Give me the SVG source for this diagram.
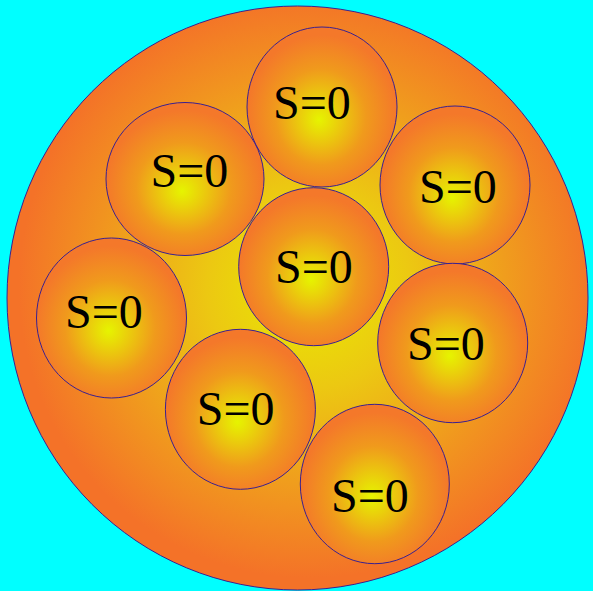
<svg xmlns="http://www.w3.org/2000/svg" width="593" height="591" viewBox="0 0 593 591">
<defs>
<radialGradient id="gBig" cx="0.52" cy="0.48" r="0.5">
<stop offset="0" stop-color="#e8ec00"/>
<stop offset="0.35" stop-color="#ecc812"/>
<stop offset="1" stop-color="#f47228"/>
</radialGradient>
<radialGradient id="gSmall" cx="0.5" cy="0.55" r="0.5" fx="0.48" fy="0.58">
<stop offset="0" stop-color="#e6f400"/>
<stop offset="0.6" stop-color="#f09a1c"/>
<stop offset="1" stop-color="#f4782a"/>
</radialGradient>
<style>
.big{fill:url(#gBig);stroke:#3a2090;stroke-width:1}
.c{fill:url(#gSmall);stroke:#3a2090;stroke-width:1}
.t{font-family:"Liberation Serif","Times New Roman",serif;font-size:48px;fill:#000}
</style>
</defs>
<rect width="593" height="591" fill="#00ffff"/>
<g id="outer"><ellipse class="big" cx="297.5" cy="298" rx="290.5" ry="292"/></g>
<g id="n1"><ellipse class="c" cx="322" cy="107" rx="75" ry="80"/><text class="t" x="273" y="119">S=0</text></g>
<g id="n2"><ellipse class="c" cx="185" cy="179" rx="79" ry="76.5"/><text class="t" x="150.5" y="187">S=0</text></g>
<g id="n3"><ellipse class="c" cx="455" cy="185" rx="75" ry="79"/><text class="t" x="419" y="203">S=0</text></g>
<g id="n4"><ellipse class="c" cx="313.7" cy="266.7" rx="75" ry="79"/><text class="t" x="275" y="283">S=0</text></g>
<g id="n5"><ellipse class="c" cx="111.5" cy="318" rx="75" ry="80"/><text class="t" x="65" y="328">S=0</text></g>
<g id="n6"><ellipse class="c" cx="452.7" cy="343" rx="75" ry="79.7"/><text class="t" x="407" y="360">S=0</text></g>
<g id="n7"><ellipse class="c" cx="240.4" cy="409.3" rx="75" ry="80"/><text class="t" x="196.7" y="425">S=0</text></g>
<g id="n8"><ellipse class="c" cx="374.8" cy="484" rx="74.5" ry="79.7"/><text class="t" x="331" y="511.7">S=0</text></g>
<g id="connectors"/>
</svg>
